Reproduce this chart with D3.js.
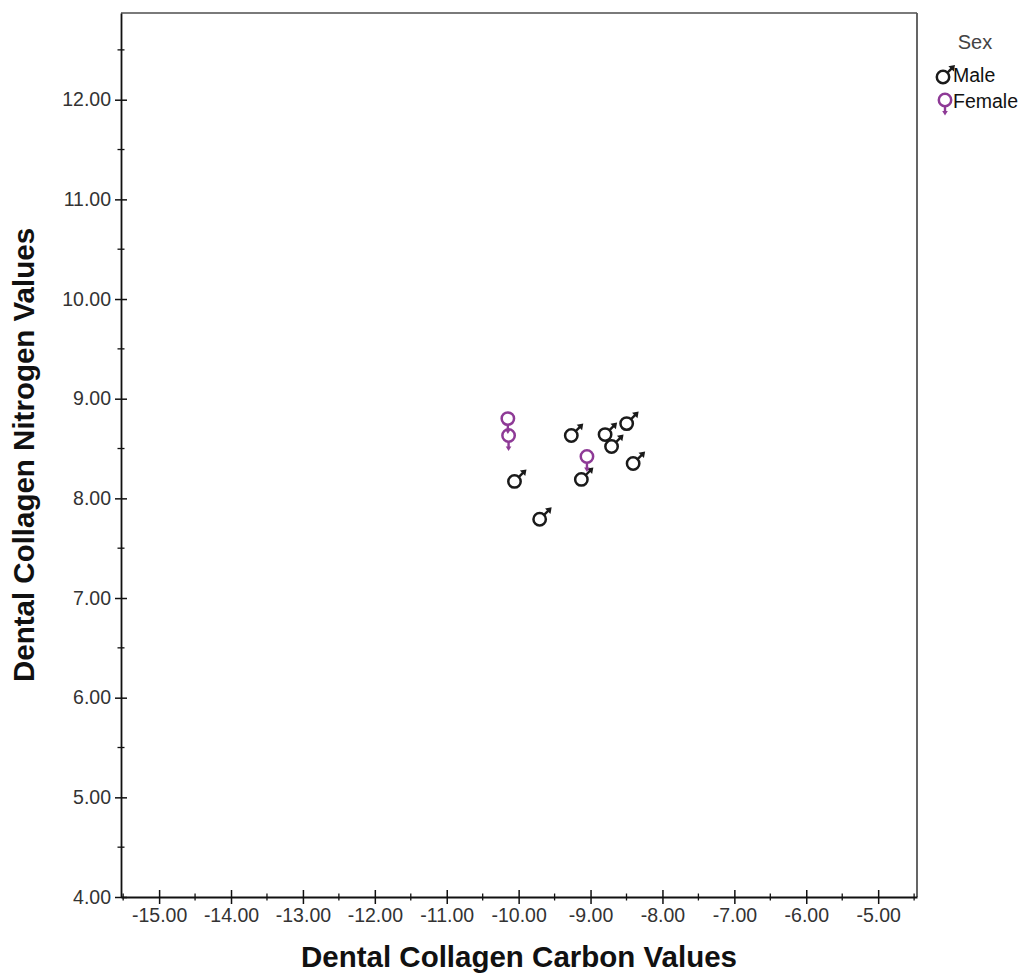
<!DOCTYPE html>
<html>
<head>
<meta charset="utf-8">
<script src="https://cdn.jsdelivr.net/npm/d3@7"></script>
<style>
  html, body { margin: 0; padding: 0; background: #fff; }
  svg { display: block; }
  text { font-family: Arial, "Liberation Sans", sans-serif; }
</style>
</head>
<body>
<svg id="chart" width="1029" height="974"></svg>
<script>
// ---- Data ----
const maleCarbon   = [-9.24, -8.77, -8.47, -8.68, -8.38, -10.03, -9.10, -9.68];
const maleNitrogen = [ 8.65,  8.66,  8.77,  8.54,  8.37,   8.19,  8.21,  7.81];
const femaleCarbon   = [-10.15, -10.14, -9.05];
const femaleNitrogen = [  8.76,   8.59,  8.38];

const xTickValues = [-15, -14, -13, -12, -11, -10, -9, -8, -7, -6, -5];
const yTickValues = [4, 5, 6, 7, 8, 9, 10, 11, 12];
const legendTitle = "Sex";
const legendLabels = ["Male", "Female"];
const xTitle = "Dental Collagen Carbon Values";
const yTitle = "Dental Collagen Nitrogen Values";

// ---- Layout ----
const svg = d3.select("#chart");
const plot = { left: 121, right: 917, top: 13, bottom: 897 };
const x = d3.scaleLinear().domain([-15.53, -4.46]).range([plot.left, plot.right]);
const y = d3.scaleLinear().domain([4, 12.87]).range([plot.bottom, plot.top]);

const maleColor = "#1a1a1a";
const femaleColor = "#8e3a96";
const tickColor = "#333";
const fmt = d => d.toFixed(2);

// frame (top and right)
svg.append("line").attr("x1", plot.left).attr("x2", plot.right).attr("y1", plot.top).attr("y2", plot.top)
  .attr("stroke", "#7a7a7a").attr("stroke-width", 1.8);
svg.append("line").attr("x1", plot.right).attr("x2", plot.right).attr("y1", plot.top).attr("y2", plot.bottom)
  .attr("stroke", "#555").attr("stroke-width", 1.8);

// minor ticks
const xMinor = d3.range(-15.5, -4.4, 1);
const yMinor = d3.range(4.5, 12.6, 1);

// X axis
const xAxis = d3.axisBottom(x).tickValues(xTickValues).tickFormat(fmt).tickSize(0).tickPadding(11);
const gx = svg.append("g").attr("transform", `translate(0,${plot.bottom})`).call(xAxis);
gx.select(".domain").attr("stroke", "#111").attr("stroke-width", 1.8);
gx.selectAll("text").attr("font-size", 19.5).attr("fill", tickColor).attr("font-family", "Arial, 'Liberation Sans', sans-serif");
gx.selectAll(".tick").append("line").attr("y1", -7).attr("y2", 7).attr("stroke", "#111").attr("stroke-width", 1.5);
gx.selectAll(".minor").data(xMinor).enter().append("line").attr("class", "minor")
  .attr("x1", d => x(d)).attr("x2", d => x(d)).attr("y1", -3.5).attr("y2", 3.5)
  .attr("stroke", "#111").attr("stroke-width", 1.3);

// Y axis
const yAxis = d3.axisLeft(y).tickValues(yTickValues).tickFormat(fmt).tickSize(0).tickPadding(10);
const gy = svg.append("g").attr("transform", `translate(${plot.left},0)`).call(yAxis);
gy.select(".domain").attr("stroke", "#111").attr("stroke-width", 1.8);
gy.selectAll("text").attr("font-size", 19.5).attr("fill", tickColor).attr("font-family", "Arial, 'Liberation Sans', sans-serif");
gy.selectAll(".tick").append("line").attr("x1", -6).attr("x2", 6).attr("stroke", "#111").attr("stroke-width", 1.5);
gy.selectAll(".minor").data(yMinor).enter().append("line").attr("class", "minor")
  .attr("y1", d => y(d)).attr("y2", d => y(d)).attr("x1", -3.5).attr("x2", 3.5)
  .attr("stroke", "#111").attr("stroke-width", 1.3);

// Titles
svg.append("text").attr("x", (plot.left + plot.right) / 2).attr("y", 967)
  .attr("text-anchor", "middle").attr("font-size", 29.5).attr("font-weight", "bold").attr("fill", "#111")
  .text(xTitle);
svg.append("text").attr("transform", `translate(34,${455}) rotate(-90)`)
  .attr("text-anchor", "middle").attr("font-size", 29.5).attr("font-weight", "bold").attr("fill", "#111")
  .text(yTitle);

// ---- Glyph markers ----
function drawMale(g, color) {
  g.append("circle").attr("cx", -2).attr("cy", 2).attr("r", 6.2)
    .attr("fill", "none").attr("stroke", color).attr("stroke-width", 2.5);
  g.append("line").attr("x1", 2.2).attr("y1", -2.2).attr("x2", 7.2).attr("y2", -7.2)
    .attr("stroke", color).attr("stroke-width", 2.4);
  g.append("path").attr("d", "M10,-10 L3.4,-8.8 L8.8,-3.4 Z").attr("fill", color);
}
function drawFemale(g, color) {
  g.append("circle").attr("cx", 0).attr("cy", -4).attr("r", 6.2)
    .attr("fill", "none").attr("stroke", color).attr("stroke-width", 2.5);
  g.append("line").attr("x1", 0).attr("y1", 2.4).attr("x2", 0).attr("y2", 8)
    .attr("stroke", color).attr("stroke-width", 2.4);
  g.append("path").attr("d", "M-2.8,7 L2.8,7 L0,11.5 Z").attr("fill", color);
}

const males = maleCarbon.map((c, i) => ({ c, n: maleNitrogen[i] }));
const females = femaleCarbon.map((c, i) => ({ c, n: femaleNitrogen[i] }));

svg.append("g").selectAll("g").data(males).enter().append("g")
  .attr("transform", d => `translate(${x(d.c)},${y(d.n)})`)
  .each(function () { drawMale(d3.select(this), maleColor); });
svg.append("g").selectAll("g").data(females).enter().append("g")
  .attr("transform", d => `translate(${x(d.c)},${y(d.n)})`)
  .each(function () { drawFemale(d3.select(this), femaleColor); });

// ---- Legend ----
const lg = svg.append("g");
lg.append("text").attr("x", 975).attr("y", 49).attr("text-anchor", "middle")
  .attr("font-size", 20).attr("fill", "#444").text(legendTitle);
const lm = lg.append("g").attr("transform", "translate(945,75)");
drawMale(lm, maleColor);
lg.append("text").attr("x", 953).attr("y", 82).attr("font-size", 19.5).attr("fill", "#111").text(legendLabels[0]);
const lf = lg.append("g").attr("transform", "translate(945,104)");
drawFemale(lf, femaleColor);
lg.append("text").attr("x", 953).attr("y", 108).attr("font-size", 19.5).attr("fill", "#111").text(legendLabels[1]);
</script>
</body>
</html>
